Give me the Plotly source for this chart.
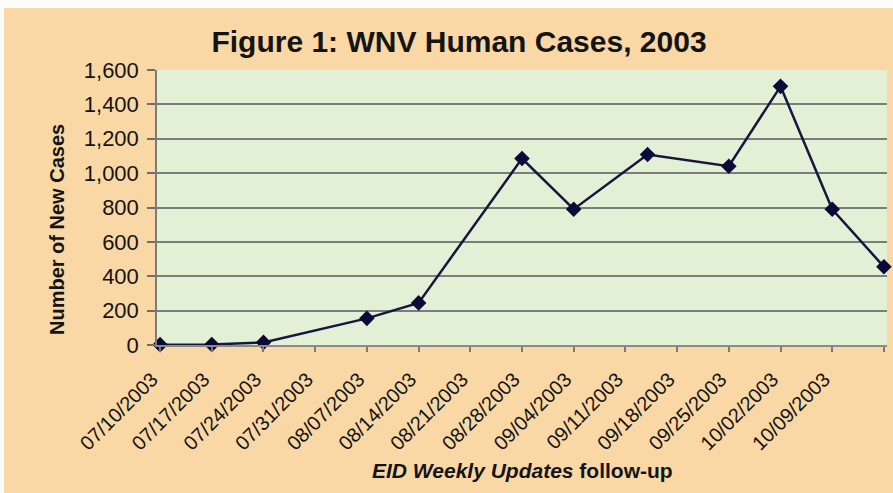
import plotly.graph_objects as go

# ---- data ----
report_dates = ["2003-07-10", "2003-07-17", "2003-07-24", "2003-08-07", "2003-08-14",
                "2003-08-28", "2003-09-04", "2003-09-14", "2003-09-25", "2003-10-02",
                "2003-10-09", "2003-10-16"]
new_cases = [2, 3, 15, 155, 245, 1085, 790, 1108, 1040, 1505, 790, 455]

tick_dates = ["2003-07-10", "2003-07-17", "2003-07-24", "2003-07-31", "2003-08-07",
              "2003-08-14", "2003-08-21", "2003-08-28", "2003-09-04", "2003-09-11",
              "2003-09-18", "2003-09-25", "2003-10-02", "2003-10-09", "2003-10-16"]
tick_labels = ["07/10/2003", "07/17/2003", "07/24/2003", "07/31/2003", "08/07/2003",
               "08/14/2003", "08/21/2003", "08/28/2003", "09/04/2003", "09/11/2003",
               "09/18/2003", "09/25/2003", "10/02/2003", "10/09/2003", ""]
y_ticks = [0, 200, 400, 600, 800, 1000, 1200, 1400, 1600]
y_labels = ["0", "200", "400", "600", "800", "1,000", "1,200", "1,400", "1,600"]

W, H = 893, 493
L, R, T, B = 157, 6, 70, 148
pw, ph = W - L - R, H - T - B

FONT = "Arial, Liberation Sans, sans-serif"
TXT = "#141414"
EDGE = "#fbfbf8"

fig = go.Figure()
fig.add_trace(go.Scatter(
    x=report_dates, y=new_cases, mode="lines+markers",
    line=dict(color="#16163e", width=2.5),
    marker=dict(symbol="diamond", size=12, color="#0b0b38"),
    cliponaxis=False, showlegend=False,
))

fig.update_layout(
    width=W, height=H,
    margin=dict(l=L, r=R, t=T, b=B),
    paper_bgcolor="#f9d8a6",
    plot_bgcolor="#e2f0d6",
    font=dict(family=FONT, color=TXT),
    title=dict(text="<b>Figure 1: WNV Human Cases, 2003</b>",
               font=dict(size=30, family=FONT, color=TXT),
               x=459 / W, xref="container", xanchor="center",
               y=1 - 41 / H, yref="container", yanchor="middle"),
    xaxis=dict(
        type="date",
        range=["2003-07-09 14:00", "2003-10-16 10:00"],
        tickvals=tick_dates, ticktext=tick_labels, tickangle=-45,
        tickfont=dict(size=20, family=FONT, color=TXT),
        ticks="outside", ticklen=5, tickcolor="#7a7a7a", tickwidth=1.5,
        ticklabelstandoff=8, ticklabelshift=-8,
        showline=True, linecolor="#8a8a8a", linewidth=1.5,
        showgrid=False, zeroline=False,
    ),
    yaxis=dict(
        range=[0, 1600],
        tickvals=y_ticks, ticktext=y_labels,
        tickfont=dict(size=22, family=FONT, color=TXT),
        ticks="outside", ticklen=8, tickcolor="#6e6e6e", tickwidth=1.5,
        ticklabelstandoff=4,
        showline=True, linecolor="#7a7a7a", linewidth=1.5,
        showgrid=True, gridcolor="#7c7c7c", gridwidth=2,
        zeroline=False,
    ),
    annotations=[
        dict(text="<b>Number of New Cases</b>", textangle=-90,
             xref="paper", yref="paper", x=(57 - L) / pw, y=(H - B - 230) / ph,
             xanchor="center", yanchor="middle", showarrow=False,
             font=dict(size=20, family=FONT, color=TXT)),
        dict(text="<b><i>EID Weekly Updates</i> follow-up</b>",
             xref="paper", yref="paper", x=0.5, y=(H - B - 470) / ph,
             xanchor="center", yanchor="middle", showarrow=False,
             font=dict(size=21, family=FONT, color=TXT)),
    ],
    shapes=[
        # thin light border strips at the top and left edge of the picture
        dict(type="rect", xref="paper", yref="paper",
             x0=-L / pw - 0.01, x1=(W - L) / pw + 0.01,
             y0=(H - B - 8) / ph, y1=(H - B) / ph + 0.01,
             fillcolor=EDGE, line=dict(width=0), layer="below"),
        dict(type="rect", xref="paper", yref="paper",
             x0=-L / pw - 0.01, x1=(4 - L) / pw,
             y0=-B / ph - 0.01, y1=(H - B) / ph + 0.01,
             fillcolor=EDGE, line=dict(width=0), layer="below"),
    ],
)

fig.write_html(
    "out.html",
    config={"displayModeBar": False},
    post_script="document.body.style.margin='0';document.body.style.overflow='hidden';",
)
